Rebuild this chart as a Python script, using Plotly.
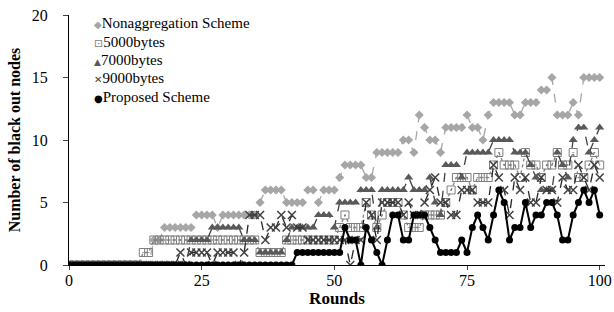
import plotly.graph_objects as go

rounds = list(range(0, 101))

nonaggregation = [
    0, 0, 0, 0, 0, 0, 0, 0, 0, 0,
    0, 0, 0, 0, 0, 0, 2, 2, 3, 3,
    3, 3, 3, 3, 4, 4, 4, 4, 3, 4,
    4, 4, 4, 4, 4, 4, 5, 6, 6, 6,
    6, 5, 5, 5, 5, 6, 6, 5, 6, 6,
    6, 7, 8, 8, 8, 8, 7, 7, 9, 9,
    9, 9, 9, 10, 10, 9, 12, 11, 10, 10,
    9, 11, 11, 11, 11, 12, 11, 11, 10, 12,
    13, 13, 13, 13, 12, 12, 13, 13, 13, 14,
    14, 15, 12, 12, 12, 13, 12, 15, 15, 15,
    15]

bytes5000 = [
    0, 0, 0, 0, 0, 0, 0, 0, 0, 0,
    0, 0, 0, 0, 1, 1, 2, 2, 2, 2,
    2, 2, 2, 2, 2, 2, 2, 2, 2, 2,
    2, 2, 2, 2, 2, 2, 1, 1, 1, 1,
    1, 2, 2, 2, 2, 2, 2, 2, 2, 2,
    2, 3, 4, 3, 3, 3, 5, 4, 3, 4,
    5, 5, 5, 4, 3, 3, 3, 4, 4, 4,
    4, 5, 6, 7, 7, 7, 6, 7, 7, 7,
    8, 9, 8, 8, 8, 7, 9, 8, 8, 7,
    8, 8, 9, 8, 8, 9, 7, 7, 8, 9,
    8]

bytes7000 = [
    0, 0, 0, 0, 0, 0, 0, 0, 0, 0,
    0, 0, 0, 0, 0, 0, 0, 0, 0, 0,
    0, 0, 0, 2, 2, 2, 2, 3, 3, 3,
    3, 3, 3, 2, 2, 2, 1, 1, 1, 1,
    1, 2, 3, 3, 3, 3, 3, 4, 4, 4,
    3, 5, 5, 5, 5, 6, 6, 6, 3, 6,
    6, 6, 6, 6, 7, 6, 6, 6, 7, 5,
    4, 8, 8, 8, 7, 9, 9, 9, 9, 9,
    10, 10, 10, 10, 9, 9, 9, 8, 7, 6,
    6, 6, 9, 8, 7, 10, 11, 11, 9, 10,
    11]

bytes9000 = [
    0, 0, 0, 0, 0, 0, 0, 0, 0, 0,
    0, 0, 0, 0, 0, 0, 0, 0, 0, 0,
    0, 1, 0, 1, 1, 1, 1, 0, 1, 1,
    1, 1, 0, 1, 4, 4, 4, 2, 3, 3,
    4, 3, 4, 3, 3, 2, 2, 2, 2, 2,
    2, 2, 2, 0, 2, 2, 5, 4, 2, 5,
    5, 5, 5, 4, 5, 4, 4, 5, 6, 7,
    5, 5, 4, 4, 6, 6, 6, 5, 5, 5,
    8, 7, 6, 4, 7, 6, 7, 5, 5, 7,
    6, 6, 5, 7, 6, 6, 8, 7, 6, 8,
    7]

proposed = [
    0, 0, 0, 0, 0, 0, 0, 0, 0, 0,
    0, 0, 0, 0, 0, 0, 0, 0, 0, 0,
    0, 0, 0, 0, 0, 0, 0, 0, 0, 0,
    0, 0, 0, 0, 0, 0, 0, 0, 0, 0,
    0, 0, 0, 1, 1, 1, 1, 1, 1, 1,
    1, 1, 3, 2, 2, 0, 3, 2, 1, 0,
    2, 4, 4, 2, 2, 4, 4, 4, 3, 2,
    1, 1, 1, 1, 2, 1, 3, 4, 3, 2,
    4, 6, 5, 2, 3, 3, 5, 3, 4, 4,
    5, 5, 4, 2, 2, 4, 5, 6, 5, 6,
    4]

x_ticks = [0, 25, 50, 75, 100]
y_ticks = [0, 5, 10, 15, 20]

series = [
    dict(name="Nonaggregation Scheme", y=nonaggregation, color="#A6A6A6",
         dash="dash", width=1.3, symbol="diamond", msize=7, mcolor="#A6A6A6", mline=None,
         glyph="\u25C6", gsize=10),
    dict(name="5000bytes", y=bytes5000, color="#7F7F7F",
         dash="dot", width=1.3, symbol="square-open-dot", msize=8, mcolor="#7F7F7F", mline=1,
         glyph="\u22A1", gsize=11),
    dict(name="7000bytes", y=bytes7000, color="#404040",
         dash="dash", width=1.3, symbol="triangle-up", msize=8, mcolor="#595959", mline=None,
         glyph="\u25B2", gsize=9),
    dict(name="9000bytes", y=bytes9000, color="#262626",
         dash="dash", width=1.3, symbol="x-thin-open", msize=8, mcolor="#404040", mline=1.5,
         glyph="\u2715", gsize=10),
    dict(name="Proposed Scheme", y=proposed, color="#000000",
         dash="solid", width=2, symbol="circle", msize=7, mcolor="#000000", mline=None,
         glyph="\u25CF", gsize=10),
]

SERIF = "Liberation Serif, Times New Roman, serif"

fig = go.Figure()
for s in series:
    marker = dict(symbol=s["symbol"], size=s["msize"], color=s["mcolor"])
    if s["mline"]:
        marker["line"] = dict(color=s["mcolor"], width=s["mline"])
    fig.add_trace(go.Scatter(
        x=rounds, y=s["y"], mode="lines+markers", name=s["name"],
        line=dict(color=s["color"], dash=s["dash"], width=s["width"]),
        marker=marker, showlegend=False))

# legend drawn as text rows (marker glyph + label), top-left inside the plot
legend_top = 0.967
legend_step = 0.0735
for i, s in enumerate(series):
    fig.add_annotation(
        xref="paper", yref="paper", x=0.043, y=legend_top - i * legend_step,
        xanchor="left", yanchor="middle", showarrow=False,
        text=("<span style='font-family:DejaVu Sans;font-size:%dpx;fill:%s'>%s</span>%s"
              % (s["gsize"], s["mcolor"], s["glyph"], s["name"])),
        font=dict(family=SERIF, size=15, color="black"))

fig.update_layout(
    width=614, height=312,
    margin=dict(l=69, r=9, t=15, b=47),
    paper_bgcolor="white", plot_bgcolor="white",
    font=dict(family=SERIF, size=16, color="black"),
    showlegend=False,
    xaxis=dict(range=[0, 101], tickvals=x_ticks, ticks="outside", ticklen=4,
               showline=True, linecolor="black", linewidth=1, showgrid=False,
               zeroline=False, tickfont=dict(family=SERIF, size=16),
               ticklabelstandoff=-3, automargin=False,
               title=dict(text="<b>Rounds</b>", font=dict(family=SERIF, size=17), standoff=3)),
    yaxis=dict(range=[0, 20], tickvals=y_ticks, ticks="outside", ticklen=5,
               showline=True, linecolor="black", linewidth=1, showgrid=False,
               zeroline=False, tickfont=dict(family=SERIF, size=16),
               ticklabelstandoff=12, automargin=False,
               title=dict(text="<b>Number of black out nodes</b>", font=dict(family=SERIF, size=16), standoff=7)),
)

fig.write_html("out.html", config={"displayModeBar": False},
               post_script="document.body.style.margin='0px';document.body.style.padding='0px';")
